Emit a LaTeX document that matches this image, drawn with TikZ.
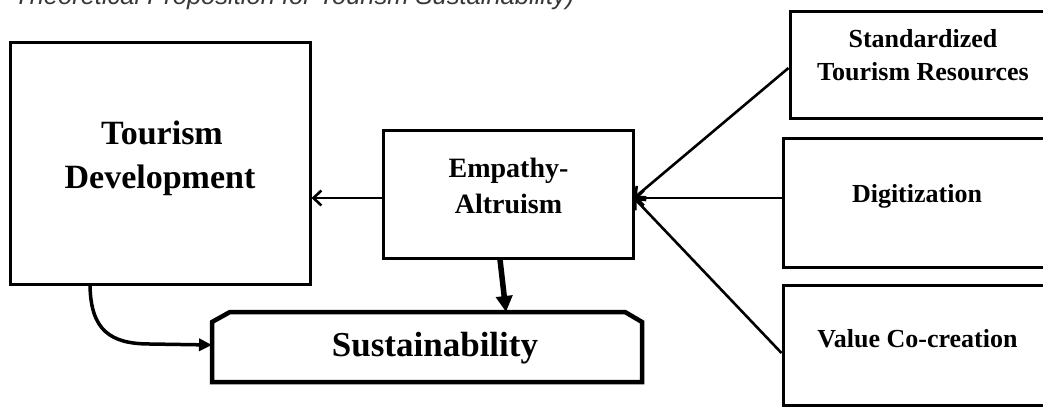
\documentclass[tikz,border=0pt]{standalone}
\usepackage{fontspec}
\setmainfont{Liberation Serif}
\newfontfamily\titlefont{Liberation Sans}
\usetikzlibrary{arrows.meta}
\begin{document}
\begin{tikzpicture}[x=1pt,y=-1pt,
  box/.style={draw, line width=3pt, inner sep=0pt},
  lbl/.style={anchor=base, font=\bfseries\fontsize{#1}{#1}\selectfont, inner sep=0pt},
  thin/.style={line width=2.6pt, -{Straight Barb[length=8pt,width=15pt,line width=2.6pt]}},
]
\useasboundingbox (0,0) rectangle (1043,407);
% title (cut at top)
\node[anchor=base west, inner sep=0pt, text=black!78, font=\titlefont\itshape\fontsize{25.5}{30}\selectfont] (title) at (14,4) {Theoretical Proposition for Tourism Sustainability)};
% boxes
\node[box, minimum width=300pt, minimum height=242pt] (td) at (160,163.5) {};
\node[box, minimum width=250pt, minimum height=128pt] (emp) at (508,194) {};
\node[box, minimum width=262pt, minimum height=107pt] (std) at (921,64.5) {};
\node[box, minimum width=268pt, minimum height=129pt] (dig) at (917,202.5) {};
\node[box, minimum width=268pt, minimum height=120pt] (val) at (917,345) {};
% texts
\node[lbl=34] (tdt1) at (162,144) {Tourism};
\node[lbl=34] (tdt2) at (160,188) {Development};
\node[lbl=28] (empt1) at (508.5,177) {Empathy-};
\node[lbl=28] (empt2) at (508.5,213) {Altruism};
\node[lbl=26] (stdt1) at (923,47) {Standardized};
\node[lbl=26] (stdt2) at (923,80) {Tourism Resources};
\node[lbl=26] (digt) at (917,202) {Digitization};
\node[lbl=26] (valt) at (917.5,347) {Value Co-creation};
% sustainability shape
\coordinate (s1) at (212,382);
\coordinate (s2) at (212,322);
\coordinate (s3) at (230,312);
\coordinate (s4) at (625,312);
\coordinate (s5) at (642,322);
\coordinate (s6) at (642,382);
\draw[line width=4.5pt, line join=miter] (s1) -- (s2) -- (s3) -- (s4) -- (s5) -- (s6) -- cycle;
\node[lbl=35] (sus) at (435,356) {Sustainability};
\coordinate (susl) at (212,345);
\coordinate (sust) at (506,312);
% connectors
\coordinate (ew) at (383,198);
\draw[thin] (ew) -- (ew -| td.east);
\coordinate (ein) at (634,198);
\draw[thin] ([yshift=-3.5pt]std.west) -- (ein);
\draw[thin] ([yshift=4.5pt]dig.west) -- (ein);
\draw[thin] ([yshift=-8pt]val.west) -- (ein);
\draw[line width=5.5pt, -{Triangle[length=16pt,width=16pt]}] ([xshift=-8pt]emp.south) -- (sust);
\draw[line width=3.5pt, -{Triangle[length=13pt,width=12pt]}] ([xshift=-70pt]td.south) .. controls (91,330) and (110,344) .. (150,344) -- (susl);
\end{tikzpicture}
\end{document}
